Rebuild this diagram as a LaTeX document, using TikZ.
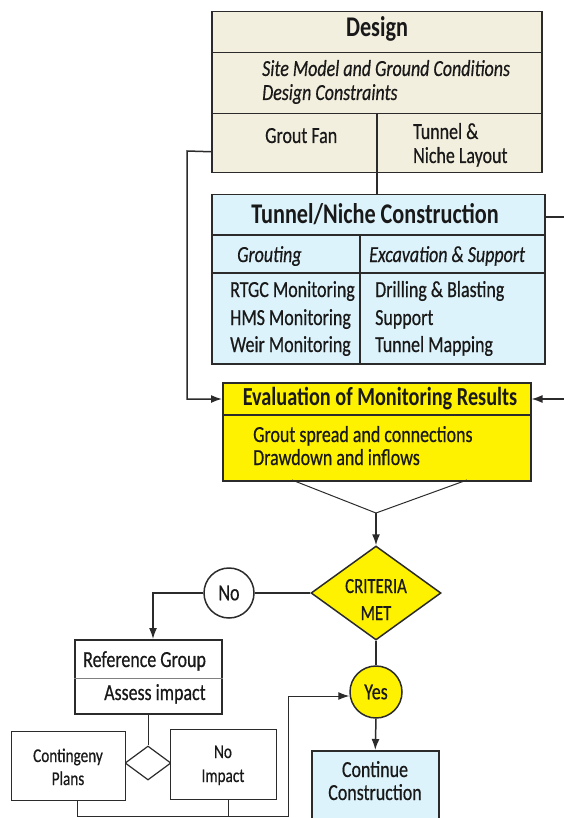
\documentclass[tikz,border=0pt]{standalone}
\usepackage{fontspec}
\setmainfont{Carlito}[FakeStretch=0.78,
  UprightFeatures={FakeBold=0.5}, ItalicFeatures={FakeBold=0.5}]
\usetikzlibrary{arrows.meta,shapes.geometric,calc}
\definecolor{linec}{HTML}{2B2B2B}
\definecolor{beige}{HTML}{F3EFDE}
\definecolor{skyfill}{HTML}{DDF3FB}
\definecolor{yelfill}{HTML}{FFF200}
\tikzset{
  boxbase/.style={draw=linec, line width=1.5pt, inner sep=0pt, anchor=north west},
  dbox/.style={boxbase, fill=beige},
  tbox/.style={boxbase, fill=skyfill},
  ybox/.style={boxbase, fill=yelfill},
  wbox/.style={boxbase, fill=white},
  lbl/.style={inner sep=0pt, anchor=base west, text=black!90, font=\fontsize{23}{27}\selectfont},
  lblc/.style={lbl, anchor=base},
  small/.style={font=\fontsize{19.5}{23}\selectfont},
  headb/.style={font=\fontsize{28.5}{32}\selectfont\bfseries},
  itl/.style={font=\fontsize{23}{27}\selectfont\itshape},
  conn/.style={draw=linec, line width=1.5pt},
  thinconn/.style={draw=linec, line width=1pt},
  arr/.style={conn, -{Latex[length=11pt,width=8pt]}},
}
\begin{document}
\begin{tikzpicture}[x=1pt,y=-1pt]
\useasboundingbox (0,0) rectangle (563,818);

% Design block
\node[dbox, minimum width=330pt, minimum height=41pt] (dtitle) at (211,11) {};
\node[dbox, minimum width=330pt, minimum height=61pt] (drow2) at (211,52) {};
\node[dbox, minimum width=330pt, minimum height=59pt] (drow3) at (211,113) {};
\node[lblc, headb] (dname) at (377,37) {Design};
\node[lbl, itl] (dsite) at (262,76) {Site Model and Ground Conditions};
\node[lbl, itl] (dcons) at (262,100) {Design Constraints};
\node[lbl] (dfan) at (265,143) {Grout Fan};
\node[lbl] (dtun1) at (413,139) {Tunnel \&};
\node[lbl] (dtun2) at (413,163) {Niche Layout};

% Tunnel / niche construction block
\node[tbox, minimum width=333pt, minimum height=40pt] (ttitle) at (211,194) {};
\node[tbox, minimum width=333pt, minimum height=38pt] (trow2) at (211,234) {};
\node[tbox, minimum width=333pt, minimum height=91pt] (trow3) at (211,272) {};
\coordinate (tcol) at (360,234);
\draw[conn] (tcol) -- (tcol |- trow3.south);
\node[lblc, headb] (tname) at (375,223) {Tunnel/Niche Construction};
\node[lbl, itl] (tgrout) at (237,262) {Grouting};
\node[lbl, itl] (texc) at (369,262) {Excavation \& Support};
\node[lbl] (tl1) at (230,297) {RTGC Monitoring};
\node[lbl] (tl2) at (230,325) {HMS Monitoring};
\node[lbl] (tl3) at (230,352) {Weir Monitoring};
\node[lbl] (tr1) at (375,297) {Drilling \& Blasting};
\node[lbl] (tr2) at (375,325) {Support};
\node[lbl] (tr3) at (375,352) {Tunnel Mapping};

% Evaluation block
\node[ybox, minimum width=308pt, minimum height=32pt] (evtitle) at (222,382) {};
\node[ybox, minimum width=308pt, minimum height=66pt] (evbody) at (222,414) {};
\node[lblc, font=\fontsize{26}{30}\selectfont\bfseries] (evname) at (380,405) {Evaluation of Monitoring Results};
\node[lbl] (ev1) at (253,442) {Grout spread and connections};
\node[lbl] (ev2) at (253,465) {Drawdown and inflows};

% Decision
\node[draw=linec, line width=1.5pt, fill=yelfill, diamond, inner sep=0pt,
      minimum width=130pt, minimum height=94pt] (crit) at (376,593) {};
\node[lblc, font=\fontsize{21.5}{25}\selectfont] (crit1) at (376,593) {CRITERIA};
\node[lblc, font=\fontsize{21.5}{25}\selectfont] (crit2) at (376,620) {MET};

\node[draw=linec, line width=1.5pt, fill=yelfill, circle, inner sep=0pt,
      minimum size=52pt, text=black!90, font=\fontsize{23}{27}\selectfont] (yes) at (376,692) {Yes};
\node[draw=linec, line width=1.5pt, fill=white, circle, inner sep=0pt,
      minimum size=50pt, text=black!90, font=\fontsize{23}{27}\selectfont] (no) at (229,593) {No};

\node[tbox, minimum width=127pt, minimum height=74pt] (cont) at (311,750) {};
\node[lblc] (cont1) at (375,777) {Continue};
\node[lblc] (cont2) at (375,800) {Construction};

% Reference group and outcomes
\node[wbox, minimum width=147pt, minimum height=74pt] (refbox) at (74,639) {};
\draw[thinconn, draw=gray] ($(refbox.north west)!0.527!(refbox.south west)$) -- ($(refbox.north east)!0.527!(refbox.south east)$);
\node[lbl] (ref1) at (83,667) {Reference Group};
\node[lbl] (ref2) at (104,700) {Assess impact};

\node[draw=linec, line width=1.2pt, fill=white, diamond, inner sep=0pt,
      minimum width=46pt, minimum height=34pt] (sdiam) at (148,763) {};
\node[wbox, line width=1.2pt, minimum width=114pt, minimum height=69pt] (contg) at (11,731) {};
\node[wbox, line width=1.2pt, minimum width=106pt, minimum height=70pt] (noimp) at (170,729) {};
\node[lblc, small] (cg1) at (68,762) {Contingeny};
\node[lblc, small] (cg2) at (68,785) {Plans};
\node[lblc, small] (ni1) at (223,758) {No};
\node[lblc, small] (ni2) at (223,782) {Impact};

% Connectors
\coordinate (dv) at (377,113);
\draw[conn] (dv) -- (dv |- ttitle.north);

\coordinate (lt) at (187,151);
\coordinate (lb) at (187,399);
\draw[arr] ([yshift=-8.5pt]drow3.west) -- (lt) -- (lb) -- (lb -| evtitle.west);

\coordinate (rt) at (572,217);
\coordinate (rb) at (572,399);
\draw[arr] (ttitle.east |- rt) -- (rt) -- (rb) -- (rb -| evtitle.east);

\coordinate (vl) at (292,480);
\coordinate (vr) at (467,480);
\coordinate (vtip) at (376,513);
\draw[thinconn] (vl) -- (vtip) -- (vr);
\draw[arr] (vtip) -- (crit.north);

\draw[conn] (crit.south) -- (yes.north);
\draw[arr] (yes.south) -- (cont.north);
\draw[conn] (crit.west) -- (no.east);
\coordinate (nl) at (153,593);
\draw[arr] (no.west) -- (nl) -- (nl |- refbox.north);

\draw[thinconn] (refbox.south -| sdiam.north) -- (sdiam.north);

\coordinate (cb) at (77,816);
\coordinate (jn) at (228,816);
\coordinate (cr) at (288,816);
\coordinate (cu) at (288,696);
\draw[thinconn] (cb |- contg.south) -- (cb) -- (cr) -- (cu);
\draw[thinconn, -{Latex[length=11pt,width=8pt]}] (cu) -- (cu -| yes.west);
\draw[thinconn] (jn |- noimp.south) -- (jn);
\end{tikzpicture}
\end{document}
